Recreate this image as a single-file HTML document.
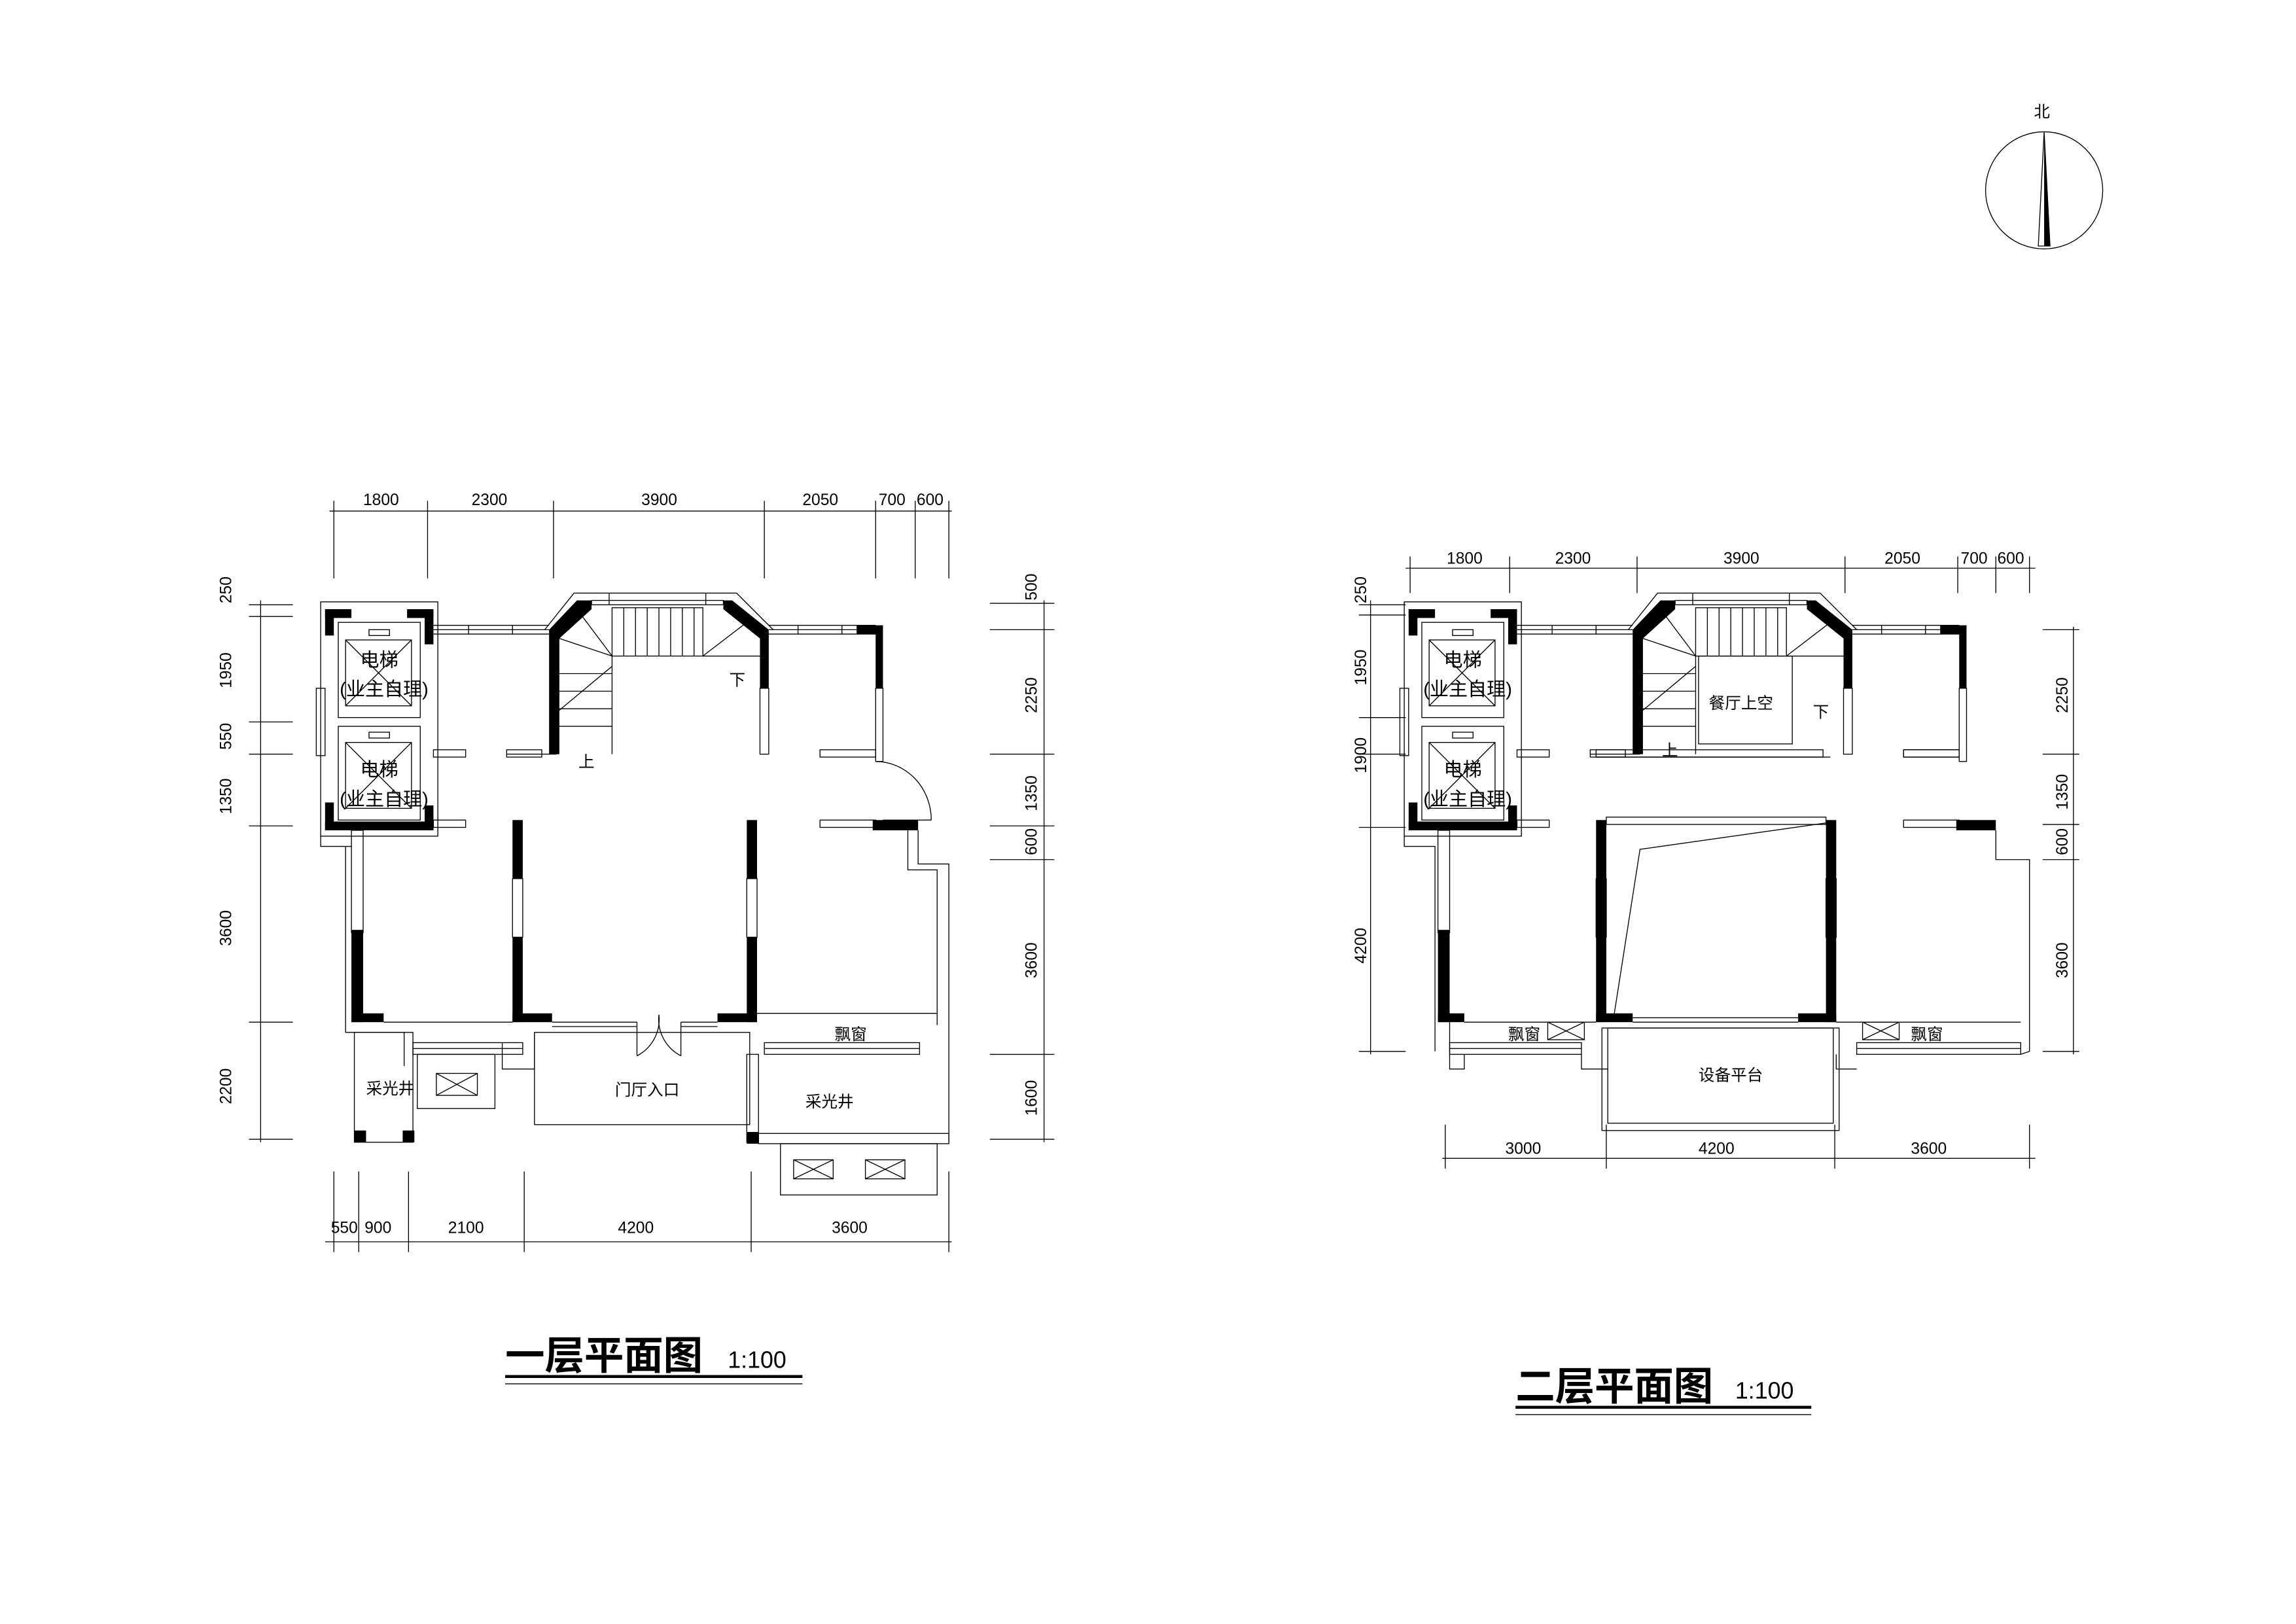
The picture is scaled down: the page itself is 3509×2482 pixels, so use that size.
<!DOCTYPE html>
<html><head><meta charset="utf-8"><style>
html,body{margin:0;padding:0;background:#fff}
svg{display:block}
text{font-family:"Liberation Sans","Noto Sans CJK SC",sans-serif;fill:#000}
.t{stroke:#000;stroke-width:0.6;fill:none}
.b{fill:#000}
.d{font-size:11px}
.lbl{font-size:11px}
.el{font-size:13px}
</style></head><body>
<svg width="3509" height="2482" viewBox="0 0 1568 1109" preserveAspectRatio="none" xmlns="http://www.w3.org/2000/svg">
<defs>
<g id="upper">
  <rect x="219" y="411" width="80" height="160" class="t"/>
  <rect x="216" y="470" width="6" height="46" class="t"/>
  <rect x="222" y="416" width="18" height="6" class="b"/><rect x="222" y="416" width="6" height="18" class="b"/>
  <rect x="278" y="416" width="18" height="6" class="b"/><rect x="290" y="416" width="6" height="24" class="b"/>
  <rect x="222" y="561" width="74" height="6" class="b"/><rect x="222" y="548" width="6" height="19" class="b"/><rect x="290" y="550" width="6" height="17" class="b"/>
  <rect x="231" y="425" width="56" height="65" class="t"/>
  <rect x="231" y="496" width="56" height="64" class="t"/>
  <rect x="236" y="437" width="45" height="45" class="t"/>
  <line x1="236" y1="437" x2="281" y2="482" class="t"/><line x1="281" y1="437" x2="236" y2="482" class="t"/>
  <rect x="236" y="507" width="45" height="45" class="t"/>
  <line x1="236" y1="507" x2="281" y2="552" class="t"/><line x1="281" y1="507" x2="236" y2="552" class="t"/>
  <rect x="252" y="430" width="14" height="4" class="t"/><rect x="252" y="500" width="14" height="4" class="t"/>
  <line x1="296" y1="427" x2="375" y2="427" class="t"/><line x1="296" y1="430" x2="375" y2="430" class="t"/><line x1="296" y1="433" x2="375" y2="433" class="t"/>
  <line x1="320" y1="427" x2="320" y2="433" class="t"/><line x1="350" y1="427" x2="350" y2="433" class="t"/>
  <line x1="525" y1="427" x2="598" y2="427" class="t"/><line x1="525" y1="430" x2="598" y2="430" class="t"/><line x1="525" y1="433" x2="598" y2="433" class="t"/>
  <line x1="545" y1="427" x2="545" y2="433" class="t"/><line x1="575" y1="427" x2="575" y2="433" class="t"/>
  <polyline points="372,430 392,405 503,405 528,430" class="t"/>
  <polygon points="375,515 375,430 394,410 404,410 404,416 382,436 382,515" class="b"/>
  <polygon points="494,410 500,410 525,430 525,470 519,470 519,436 494,416" class="b"/>
  <rect x="404" y="410" width="90" height="3" class="t"/>
  <line x1="416" y1="405" x2="416" y2="413" class="t"/><line x1="482" y1="405" x2="482" y2="413" class="t"/>
  <rect x="418" y="415" width="62" height="33" class="t"/>
  <line x1="426" y1="415" x2="426" y2="448" class="t"/><line x1="434" y1="415" x2="434" y2="448" class="t"/><line x1="442" y1="415" x2="442" y2="448" class="t"/><line x1="450" y1="415" x2="450" y2="448" class="t"/><line x1="458" y1="415" x2="458" y2="448" class="t"/><line x1="466" y1="415" x2="466" y2="448" class="t"/><line x1="474" y1="415" x2="474" y2="448" class="t"/>
  <polyline points="382,436 418,448 418,515" class="t"/>
  <line x1="382" y1="460" x2="418" y2="460" class="t"/><line x1="382" y1="472" x2="418" y2="472" class="t"/><line x1="382" y1="484" x2="418" y2="484" class="t"/><line x1="382" y1="496" x2="418" y2="496" class="t"/>
  <line x1="394" y1="416" x2="418" y2="448" class="t"/>
  <line x1="480" y1="448" x2="510" y2="425" class="t"/><line x1="480" y1="448" x2="519" y2="448" class="t"/>
  <line x1="382" y1="485" x2="418" y2="455" class="t"/>
  <polygon points="585,427 603,427 603,470 598,470 598,433 585,433" class="b"/>
  <rect x="598" y="470" width="5" height="50" class="t"/>
  <rect x="519" y="470" width="6" height="45" class="t"/>
  <line x1="380" y1="515" x2="346" y2="515" class="t"/>
  <rect x="346" y="512" width="24" height="5" class="t"/>
  <rect x="296" y="512" width="22" height="5" class="t"/>
  <rect x="560" y="512" width="38" height="5" class="t"/>
</g>
</defs>

<use href="#upper"/>
<path d="M598,520 A38,40 0 0 1 636,560" class="t"/><line x1="603" y1="560" x2="636" y2="560" class="t"/>
<rect x="350" y="560" width="7" height="40" class="b"/><rect x="350" y="600" width="7" height="40" class="t"/><rect x="350" y="640" width="7" height="58" class="b"/><rect x="350" y="692" width="27" height="6" class="b"/>
<rect x="510" y="560" width="7" height="40" class="b"/><rect x="510" y="600" width="7" height="40" class="t"/><rect x="510" y="640" width="7" height="58" class="b"/><rect x="490" y="692" width="27" height="6" class="b"/>
<rect x="296" y="560" width="22" height="5" class="t"/>
<rect x="560" y="560" width="38" height="5" class="t"/>
<rect x="596" y="560" width="31" height="7" class="b"/>
<polyline points="219,571 219,578 240,578" class="t"/>
<rect x="240" y="567" width="8" height="70" class="t"/>
<rect x="240" y="635" width="8" height="63" class="b"/><rect x="240" y="692" width="22" height="6" class="b"/>
<polyline points="236,578 236,705 276,705 276,728" class="t"/>
<line x1="262" y1="698" x2="350" y2="698" class="t"/>
<rect x="242" y="705" width="40" height="75" class="t"/>
<rect x="242" y="772" width="8" height="8" class="b"/><rect x="275" y="772" width="8" height="8" class="b"/>
<rect x="282" y="712" width="75" height="8" class="t"/>
<line x1="282" y1="716" x2="357" y2="716" class="t"/>
<rect x="285" y="720" width="53" height="37" class="t"/>
<rect x="298" y="733" width="28" height="15" class="t"/><line x1="298" y1="733" x2="326" y2="748" class="t"/><line x1="326" y1="733" x2="298" y2="748" class="t"/>
<text x="250" y="747" class="lbl">采光井</text>
<polyline points="343,712 343,730 365,730 365,705" class="t"/>
<rect x="365" y="705" width="147" height="63" class="t"/>
<line x1="377" y1="698" x2="435" y2="698" class="t"/><line x1="377" y1="701" x2="435" y2="701" class="t"/>
<line x1="465" y1="698" x2="490" y2="698" class="t"/><line x1="465" y1="701" x2="490" y2="701" class="t"/>
<path d="M435,721 A28,28 0 0 0 450,693" class="t"/><path d="M465,721 A28,28 0 0 1 450,693" class="t"/>
<line x1="435" y1="698" x2="435" y2="721" class="t"/><line x1="465" y1="698" x2="465" y2="721" class="t"/>
<text x="420" y="748" class="lbl">门厅入口</text>
<polyline points="627,567 627,590 648,590 648,780" class="t"/>
<polyline points="620,567 620,594 640,594 640,700" class="t"/>
<line x1="517" y1="692" x2="640" y2="692" class="t"/>
<text x="570" y="710" class="lbl">飘窗</text>
<rect x="522" y="712" width="106" height="8" class="t"/><line x1="522" y1="716" x2="628" y2="716" class="t"/>
<rect x="510" y="720" width="8" height="60" class="t"/>
<rect x="510" y="773" width="8" height="8" class="b"/>
<rect x="518" y="774" width="130" height="7" class="t"/>
<text x="550" y="756" class="lbl">采光井</text>
<rect x="533" y="781" width="107" height="35" class="t"/>
<rect x="542" y="792" width="27" height="13" class="t"/><line x1="542" y1="792" x2="569" y2="805" class="t"/><line x1="569" y1="792" x2="542" y2="805" class="t"/>
<rect x="591" y="792" width="27" height="13" class="t"/><line x1="591" y1="792" x2="618" y2="805" class="t"/><line x1="618" y1="792" x2="591" y2="805" class="t"/>
<text x="246" y="455" class="el">电梯</text><text x="232" y="475" class="el">(业主自理)</text>
<text x="246" y="530" class="el">电梯</text><text x="232" y="550" class="el">(业主自理)</text>
<text x="395" y="524" class="lbl" font-size="9">上</text><text x="498" y="468" class="lbl" font-size="9">下</text>

<g class="t">
<line x1="225" y1="349" x2="650" y2="349"/>
<line x1="228" y1="342" x2="228" y2="395"/><line x1="292" y1="342" x2="292" y2="395"/><line x1="378" y1="342" x2="378" y2="395"/><line x1="522" y1="342" x2="522" y2="395"/><line x1="598" y1="342" x2="598" y2="395"/><line x1="625" y1="342" x2="625" y2="395"/><line x1="648" y1="342" x2="648" y2="395"/>
<line x1="178" y1="410" x2="178" y2="780"/>
<line x1="170" y1="413" x2="200" y2="413"/><line x1="170" y1="421" x2="200" y2="421"/><line x1="170" y1="493" x2="200" y2="493"/><line x1="170" y1="515" x2="200" y2="515"/><line x1="170" y1="564" x2="200" y2="564"/><line x1="170" y1="698" x2="200" y2="698"/><line x1="170" y1="778" x2="200" y2="778"/>
<line x1="713" y1="410" x2="713" y2="780"/>
<line x1="676" y1="412" x2="720" y2="412"/><line x1="676" y1="430" x2="720" y2="430"/><line x1="676" y1="515" x2="720" y2="515"/><line x1="676" y1="564" x2="720" y2="564"/><line x1="676" y1="587" x2="720" y2="587"/><line x1="676" y1="720" x2="720" y2="720"/><line x1="676" y1="778" x2="720" y2="778"/>
<line x1="222" y1="848" x2="650" y2="848"/>
<line x1="228" y1="800" x2="228" y2="855"/><line x1="245" y1="800" x2="245" y2="855"/><line x1="279" y1="800" x2="279" y2="855"/><line x1="358" y1="800" x2="358" y2="855"/><line x1="513" y1="800" x2="513" y2="855"/><line x1="648" y1="800" x2="648" y2="855"/>
</g>
<g class="d" fill="#000">
<text x="248" y="345">1800</text><text x="322" y="345">2300</text><text x="438" y="345">3900</text><text x="548" y="345">2050</text><text x="600" y="345">700</text><text x="626" y="345">600</text>
<text x="226" y="842">550</text><text x="249" y="842">900</text><text x="306" y="842">2100</text><text x="422" y="842">4200</text><text x="568" y="842">3600</text>
</g>
<g class="d">
<text transform="translate(158,412) rotate(-90)">250</text>
<text transform="translate(158,470) rotate(-90)">1950</text>
<text transform="translate(158,512) rotate(-90)">550</text>
<text transform="translate(158,556) rotate(-90)">1350</text>
<text transform="translate(158,646) rotate(-90)">3600</text>
<text transform="translate(158,754) rotate(-90)">2200</text>
<text transform="translate(708,410) rotate(-90)">500</text>
<text transform="translate(708,487) rotate(-90)">2250</text>
<text transform="translate(708,554) rotate(-90)">1350</text>
<text transform="translate(708,584) rotate(-90)">600</text>
<text transform="translate(708,668) rotate(-90)">3600</text>
<text transform="translate(708,762) rotate(-90)">1600</text>
</g>
<text x="345" y="935" font-size="27" font-weight="bold">一层平面图</text><text x="497" y="934" font-size="16">1:100</text>
<line x1="345" y1="940" x2="548" y2="940" stroke="#000" stroke-width="2"/><line x1="345" y1="945" x2="548" y2="945" class="t"/>

<use href="#upper" transform="translate(740,0)"/>
<rect x="1160" y="448" width="64" height="60" class="t"/>
<text x="1167" y="484" class="lbl">餐厅上空</text>
<rect x="1090" y="512" width="155" height="5" class="t"/>
<line x1="1090" y1="517" x2="1250" y2="517" class="t"/>
<text x="1135" y="516" class="lbl" font-size="9">上</text><text x="1238" y="490" class="lbl" font-size="9">下</text>
<rect x="1036" y="560" width="22" height="5" class="t"/>
<rect x="1300" y="512" width="38" height="5" class="t"/>
<rect x="1300" y="560" width="38" height="5" class="t"/>
<rect x="1336" y="560" width="27" height="7" class="b"/>
<polyline points="1363,567 1363,587 1386,587 1386,718" class="t"/>
<polyline points="959,571 959,578 980,578 980,718" class="t"/>
<rect x="982" y="567" width="8" height="70" class="t"/>
<rect x="982" y="635" width="8" height="63" class="b"/><rect x="982" y="692" width="18" height="6" class="b"/>
<rect x="1090" y="560" width="7" height="138" class="b"/><rect x="1090" y="600" width="7" height="40" class="t"/><rect x="1090" y="692" width="25" height="6" class="b"/>
<rect x="1247" y="560" width="7" height="138" class="b"/><rect x="1247" y="600" width="7" height="40" class="t"/><rect x="1228" y="692" width="26" height="6" class="b"/>
<rect x="1097" y="558" width="150" height="5" class="t"/>
<polyline points="1102,695 1120,580 1247,562" class="t"/>
<line x1="1115" y1="695" x2="1228" y2="695" class="t"/><line x1="1115" y1="698" x2="1228" y2="698" class="t"/>
<rect x="1098" y="702" width="154" height="65" class="t"/><rect x="1094" y="702" width="162" height="70" class="t"/>
<text x="1160" y="738" class="lbl">设备平台</text>
<line x1="1000" y1="698" x2="1090" y2="698" class="t"/>
<rect x="990" y="712" width="90" height="8" class="t"/><line x1="990" y1="716" x2="1080" y2="716" class="t"/>
<polyline points="990,698 990,730 1000,730 1000,720" class="t"/>
<polyline points="1080,720 1080,730 1098,730" class="t"/>
<text x="1030" y="710" class="lbl">飘窗</text>
<rect x="1057" y="698" width="25" height="12" class="t"/><line x1="1057" y1="698" x2="1082" y2="710" class="t"/><line x1="1082" y1="698" x2="1057" y2="710" class="t"/>
<line x1="1254" y1="698" x2="1380" y2="698" class="t"/>
<rect x="1268" y="712" width="112" height="8" class="t"/><line x1="1268" y1="716" x2="1380" y2="716" class="t"/>
<polyline points="1254,720 1254,730 1268,730" class="t"/>
<line x1="1386" y1="718" x2="1380" y2="720" class="t"/>
<text x="1305" y="710" class="lbl">飘窗</text>
<rect x="1272" y="698" width="25" height="12" class="t"/><line x1="1272" y1="698" x2="1297" y2="710" class="t"/><line x1="1297" y1="698" x2="1272" y2="710" class="t"/>
<text x="986" y="455" class="el">电梯</text><text x="972" y="475" class="el">(业主自理)</text>
<text x="986" y="530" class="el">电梯</text><text x="972" y="550" class="el">(业主自理)</text>

<g class="t">
<line x1="960" y1="388" x2="1390" y2="388"/>
<line x1="963" y1="380" x2="963" y2="405"/><line x1="1031" y1="380" x2="1031" y2="405"/><line x1="1118" y1="380" x2="1118" y2="405"/><line x1="1260" y1="380" x2="1260" y2="405"/><line x1="1337" y1="380" x2="1337" y2="405"/><line x1="1363" y1="380" x2="1363" y2="405"/><line x1="1386" y1="380" x2="1386" y2="405"/>
<line x1="936" y1="410" x2="936" y2="720"/>
<line x1="928" y1="413" x2="960" y2="413"/><line x1="928" y1="420" x2="960" y2="420"/><line x1="928" y1="490" x2="960" y2="490"/><line x1="928" y1="515" x2="960" y2="515"/><line x1="928" y1="565" x2="960" y2="565"/><line x1="928" y1="718" x2="960" y2="718"/>
<line x1="1416" y1="428" x2="1416" y2="720"/>
<line x1="1395" y1="430" x2="1420" y2="430"/><line x1="1395" y1="515" x2="1420" y2="515"/><line x1="1395" y1="563" x2="1420" y2="563"/><line x1="1395" y1="587" x2="1420" y2="587"/><line x1="1395" y1="718" x2="1420" y2="718"/>
<line x1="985" y1="791" x2="1390" y2="791"/>
<line x1="987" y1="768" x2="987" y2="798"/><line x1="1097" y1="768" x2="1097" y2="798"/><line x1="1253" y1="768" x2="1253" y2="798"/><line x1="1386" y1="768" x2="1386" y2="798"/>
</g>
<g class="d">
<text x="988" y="385">1800</text><text x="1062" y="385">2300</text><text x="1177" y="385">3900</text><text x="1287" y="385">2050</text><text x="1339" y="385">700</text><text x="1364" y="385">600</text>
<text x="1028" y="788">3000</text><text x="1160" y="788">4200</text><text x="1305" y="788">3600</text>
<text transform="translate(933,412) rotate(-90)">250</text>
<text transform="translate(933,468) rotate(-90)">1950</text>
<text transform="translate(933,528) rotate(-90)">1900</text>
<text transform="translate(933,658) rotate(-90)">4200</text>
<text transform="translate(1412,487) rotate(-90)">2250</text>
<text transform="translate(1412,553) rotate(-90)">1350</text>
<text transform="translate(1412,584) rotate(-90)">600</text>
<text transform="translate(1412,668) rotate(-90)">3600</text>
</g>
<text x="1035" y="956" font-size="27" font-weight="bold">二层平面图</text><text x="1185" y="955" font-size="16">1:100</text>
<line x1="1035" y1="961" x2="1237" y2="961" stroke="#000" stroke-width="2"/><line x1="1035" y1="966" x2="1237" y2="966" class="t"/>

<circle cx="1396" cy="130" r="40" class="t"/>
<polygon points="1396,90 1392,168 1400,168" class="t"/>
<polygon points="1396,90 1396,168 1400,168" class="b"/>
<text x="1389" y="80" font-size="11">北</text>
</svg>
</body></html>
